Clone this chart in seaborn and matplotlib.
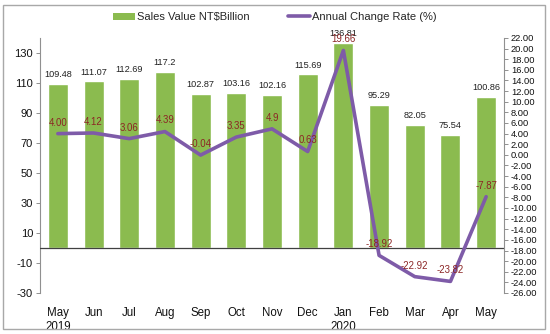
import numpy as np
import pandas as pd
import matplotlib
matplotlib.use("Agg")
import matplotlib.pyplot as plt
from matplotlib.patches import Rectangle, Patch
from matplotlib.lines import Line2D
import seaborn as sns

months = ["May\n2019", "Jun", "Jul", "Aug", "Sep", "Oct", "Nov", "Dec",
          "Jan\n2020", "Feb", "Mar", "Apr", "May"]
sales = [109.48, 111.07, 112.69, 117.2, 102.87, 103.16, 102.16, 115.69,
         136.81, 95.29, 82.05, 75.54, 100.86]
rates = [4.00, 4.12, 3.06, 4.39, -0.04, 3.35, 4.9, 0.63,
         19.66, -18.92, -22.92, -23.82, -7.87]
rate_labels = ["4.00", "4.12", "3.06", "4.39", "-0.04", "3.35", "4.9", "0.63",
               "19.66", "-18.92", "-22.92", "-23.82", "-7.87"]
sales_labels = ["109.48", "111.07", "112.69", "117.2", "102.87", "103.16", "102.16",
                "115.69", "136.81", "95.29", "82.05", "75.54", "100.86"]

sns.set_theme(style="white")
plt.rcParams["font.family"] = ["Liberation Sans", "DejaVu Sans"]
plt.rcParams["axes.unicode_minus"] = False

GREEN = "#8BBB4F"
PURPLE = "#7E5BA8"
RED = "#8B2525"

df = pd.DataFrame({"month": months, "sales": sales, "rate": rates})

fig = plt.figure(figsize=(5.5, 3.34), dpi=100)
ax = fig.add_axes([40/550, 1-293/334, 464/550, 255/334])

sns.barplot(data=df, x="month", y="sales", color=GREEN, width=0.56,
            saturation=1, ax=ax, order=months)
ax.set_xlim(-0.5, len(months) - 0.5)
ax.set_ylim(-30, 140)
ax.set_yticks(np.arange(-30, 131, 20))
ax.set_xlabel("")
ax.set_ylabel("")
ax.bar_label(ax.containers[0], labels=sales_labels, padding=3.5, fontsize=6.6,
             color="#222222")
ax.axhline(0, color="#404040", lw=0.9, zorder=3)

for s in ["top", "right", "bottom"]:
    ax.spines[s].set_visible(False)
ax.spines["left"].set_color("#909090")
ax.spines["left"].set_linewidth(0.8)
ax.tick_params(axis="y", which="both", left=True, length=3, width=0.7,
               color="#909090", labelsize=8, pad=2, labelcolor="#111111")
ax.tick_params(axis="x", bottom=False, labelsize=8.3, pad=4, labelcolor="#111111")

ax2 = ax.twinx()
sns.lineplot(x=np.arange(len(months)), y=rates, color=PURPLE, lw=2.6, ax=ax2)
ax2.set_ylim(-26, 22)
ax2.set_yticks(np.arange(-26, 23, 2))
ax2.set_yticklabels([f"{v:.2f}" for v in np.arange(-26, 23, 2)])
ax2.set_xlim(-0.5, len(months) - 0.5)
for s in ["top", "left", "bottom"]:
    ax2.spines[s].set_visible(False)
ax2.spines["right"].set_color("#909090")
ax2.spines["right"].set_linewidth(0.8)
ax2.tick_params(axis="y", right=True, length=3, width=0.7, color="#909090",
                labelsize=6.7, pad=2, labelcolor="#111111")
ax2.grid(False)
ax.grid(False)

for i, (r, lab) in enumerate(zip(rates, rate_labels)):
    ax2.annotate(lab, (i, r), xytext=(0, 8), textcoords="offset points",
                 ha="center", va="center", fontsize=6.9, color=RED)

handles = [Patch(facecolor=GREEN, edgecolor="none"),
           Line2D([0], [0], color=PURPLE, lw=2.6)]
fig.legend(handles, ["Sales Value NT$Billion", "Annual Change Rate (%)"],
           loc="center", bbox_to_anchor=(0.5, 1-17/334), ncol=2, frameon=False,
           fontsize=8, handlelength=2.0, handleheight=0.6, handletextpad=0.2,
           columnspacing=3.4)

fig.patches.append(Rectangle((3/550, 1-329/334), 542/550, 324/334,
                             transform=fig.transFigure, fill=False,
                             edgecolor="#A8A8A8", lw=1.0))

fig.savefig("out.png", dpi=100)
